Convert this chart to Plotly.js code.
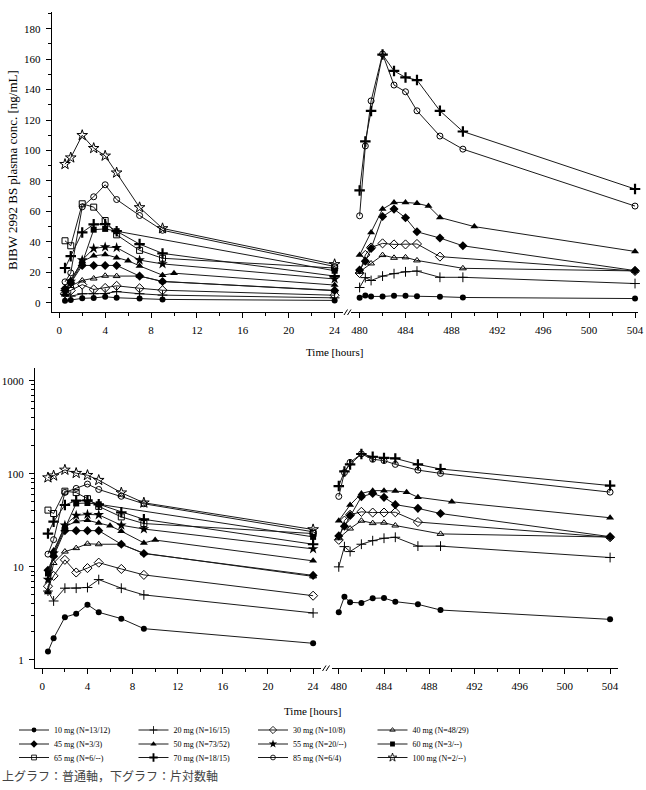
<!DOCTYPE html>
<html><head><meta charset="utf-8">
<script src="https://cdn.plot.ly/plotly-3.0.1.min.js"></script>
<style>html,body{margin:0;padding:0;background:#fff}#chart{width:646px;height:790px}</style>
</head><body><div id="chart"></div>
<script>
const W = 646, H = 790;

// ---- time points (hours) ----
const tDay1      = [0.5, 1, 2, 3, 4, 5, 7, 9, 24];
const tDay1_50mg = [0.5, 1, 2, 3, 4, 5, 6, 7, 9, 10, 24];
const tDay1_60mg = [0.5, 1, 2, 3, 4, 5, 24];
const tDay21      = [480, 480.5, 481, 482, 483, 484, 485, 487, 489, 504];
const tDay21_30mg = [480, 480.5, 481, 482, 483, 484, 485, 487, 504];
const tDay21_40mg = [480, 481, 482, 483, 484, 485, 489, 504];
const tDay21_50mg = [480, 481, 482, 483, 484, 485, 486, 487, 490, 504];

// ---- legend labels ----
const doseLabels = [
  "10 mg (N=13/12)", "20 mg (N=16/15)", "30 mg (N=10/8)", "40 mg (N=48/29)",
  "45 mg (N=3/3)", "50 mg (N=73/52)", "55 mg (N=20/--)", "60 mg (N=3/--)",
  "65 mg (N=6/--)", "70 mg (N=18/15)", "85 mg (N=6/4)", "100 mg (N=2/--)"
];

// ---- concentrations, day 1 (ng/mL) ----
const c10_d1  = [1.23, 1.71, 2.88, 3.14, 3.93, 3.25, 2.78, 2.17, 1.51];
const c20_d1  = [5.5, 4.3, 5.9, 5.9, 6.0, 7.3, 5.9, 5.0, 3.2];
const c30_d1  = [6.2, 8.0, 11.9, 8.7, 9.7, 11.1, 9.5, 8.2, 4.9];
const c40_d1  = [5.5, 11.0, 14.6, 15.9, 17.7, 17.5, 17.5, 14.0, 7.9];
const c45_d1  = [9.2, 13.0, 24.5, 24.5, 24.5, 24.5, 17.5, 13.9, 8.1];
const c50_d1  = [5.3, 15.0, 27.0, 30.8, 31.7, 29.6, 27.6, 24.2, 18.1, 19.4, 11.6];
const c55_d1  = [7.3, 14.0, 28.0, 35.7, 36.6, 36.2, 28.0, 25.5, 15.6];
const c60_d1  = [8.5, 13.5, 26.0, 48.0, 48.5, 47.0, 21.0];
const c65_d1  = [40.7, 37.4, 65.0, 62.8, 54.0, 44.6, 34.4, 29.2, 22.8];
const c70_d1  = [22.8, 30.6, 46.2, 51.5, 51.7, 47.0, 38.5, 32.4, 17.5];
const c85_d1  = [13.7, 19.6, 63.0, 69.6, 77.5, 67.8, 57.3, 47.6, 23.8];
const c100_d1 = [91.0, 95.3, 110.0, 101.5, 96.5, 85.4, 62.6, 48.8, 25.2];

// ---- concentrations, day 21 (ng/mL) ----
const c10_d21 = [3.25, 4.78, 4.16, 4.10, 4.60, 4.63, 4.23, 3.96, 3.44, 2.73];
const c20_d21 = [10.0, 16.5, 14.6, 17.5, 19.1, 20.3, 20.8, 16.7, 16.7, 12.6];
const c30_d21 = [19.5, 31.4, 36.3, 39.0, 38.3, 38.3, 38.6, 30.3, 20.8];
const c40_d21 = [20.3, 25.8, 31.3, 29.5, 29.8, 27.8, 22.6, 20.9];
const c45_d21 = [21.5, 27.3, 35.6, 56.6, 61.5, 55.8, 46.6, 42.5, 37.4, 21.1];
const c50_d21 = [31.3, 46.2, 61.5, 65.9, 65.9, 65.3, 63.5, 56.0, 50.0, 33.7];
const c70_d21 = [73.8, 106.0, 126.0, 163.0, 152.3, 148.0, 146.3, 126.1, 112.5, 74.7];
const c85_d21 = [57.1, 103.0, 132.6, 163.4, 143.0, 138.6, 126.1, 109.5, 100.9, 63.5];

// ---- axis tick labels ----
const logTickVals = [1, 10, 100, 1000];
const logTickText = ["1", "10", "100", "1000"];

const series = [
  {i:0,  t1:tDay1,      v1:c10_d1,  t21:tDay21,      v21:c10_d21, sym:'circle',          size:6, lg:'legend'},
  {i:1,  t1:tDay1,      v1:c20_d1,  t21:tDay21,      v21:c20_d21, sym:'cross-thin-open', size:7, lw:1, lg:'legend'},
  {i:2,  t1:tDay1,      v1:c30_d1,  t21:tDay21_30mg, v21:c30_d21, sym:'diamond-open',    size:7, lw:1, lg:'legend'},
  {i:3,  t1:tDay1,      v1:c40_d1,  t21:tDay21_40mg, v21:c40_d21, sym:'triangle-up-open',size:6, lw:1, lg:'legend'},
  {i:4,  t1:tDay1,      v1:c45_d1,  t21:tDay21,      v21:c45_d21, sym:'diamond',         size:7, lg:'legend2'},
  {i:5,  t1:tDay1_50mg, v1:c50_d1,  t21:tDay21_50mg, v21:c50_d21, sym:'triangle-up',     size:7, lg:'legend2'},
  {i:6,  t1:tDay1,      v1:c55_d1,  t21:null,        v21:null,    sym:'star',            size:8, lg:'legend2'},
  {i:7,  t1:tDay1_60mg, v1:c60_d1,  t21:null,        v21:null,    sym:'square',          size:6, lg:'legend2'},
  {i:8,  t1:tDay1,      v1:c65_d1,  t21:null,        v21:null,    sym:'square-open',     size:6, lw:1, lg:'legend3'},
  {i:9,  t1:tDay1,      v1:c70_d1,  t21:tDay21,      v21:c70_d21, sym:'cross-thin-open', size:7.5, lw:2.2, lg:'legend3'},
  {i:10, t1:tDay1,      v1:c85_d1,  t21:tDay21,      v21:c85_d21, sym:'circle-open',     size:6, lw:1, lg:'legend3'},
  {i:11, t1:tDay1,      v1:c100_d1, t21:null,        v21:null,    sym:'star-open',       size:8, lw:1, lg:'legend3'}
];

const traces = [];
function mk(s, x, y, xa, ya, show, scale) {
  return {
    type: 'scatter', mode: 'lines+markers', x: x, y: y, xaxis: xa, yaxis: ya,
    name: doseLabels[s.i], legendgroup: 'g' + s.i, showlegend: show, legend: s.lg,
    line: {color: '#1a1a1a', width: 1},
    marker: {symbol: s.sym, size: s.size * scale, color: '#000',
             line: {color: '#000', width: (s.lw || 0) * (scale < 1 ? 0.85 : 1)}},
    cliponaxis: false, hoverinfo: 'skip'
  };
}
series.forEach(s => {
  traces.push(mk(s, s.t1, s.v1, 'x', 'y', false, 1));
  if (s.t21) traces.push(mk(s, s.t21, s.v21, 'x2', 'y', false, 1));
  traces.push(mk(s, s.t1, s.v1, 'x3', 'y2', false, 1));
  if (s.t21) traces.push(mk(s, s.t21, s.v21, 'x4', 'y2', false, 1));
});
// legend-only entries (no points), with slightly smaller symbols as in the key
series.forEach(s => traces.push(mk(s, [null], [null], 'x', 'y', true, 0.8)));

const px = v => v / W, py = v => 1 - v / H;
const serif = 'Liberation Serif, Times New Roman, serif';
const tf = {family: serif, size: 11, color: '#000'};
const xbase = {
  showline: true, linecolor: '#000', linewidth: 1, ticks: 'outside', ticklen: 5,
  tickwidth: 1, tickcolor: '#000', showgrid: false, zeroline: false, tickfont: tf,
  dtick: 4, ticklabelstandoff: 3,
  minor: {ticks: 'outside', ticklen: 3, tickwidth: 1, tickcolor: '#000', dtick: 2, showgrid: false}
};

const minorLog = [];
[1, 10, 100].forEach(d => { for (let k = 2; k <= 9; k++) minorLog.push(k * d); });

const legendBase = {
  orientation: 'h', xanchor: 'left', yanchor: 'middle', x: px(14),
  entrywidth: 74.5, entrywidthmode: 'pixels', itemwidth: 30,
  font: {family: serif, size: 8, color: '#000'},
  bgcolor: 'rgba(0,0,0,0)', borderwidth: 0, traceorder: 'normal'
};

function slash(x1, y1, x2, y2) {
  return {type: 'line', xref: 'paper', yref: 'paper', x0: px(x1), y0: py(y1), x1: px(x2), y1: py(y2),
          line: {color: '#000', width: 1}};
}

const layout = {
  width: W, height: H, margin: {l: 0, r: 0, t: 0, b: 0},
  paper_bgcolor: '#fff', plot_bgcolor: 'rgba(0,0,0,0)',
  showlegend: true,
  xaxis:  Object.assign({}, xbase, {domain: [px(51.7), px(343)], range: [-0.66, 24.73], tick0: 0, anchor: 'y'}),
  xaxis2: Object.assign({}, xbase, {domain: [px(351), px(638)], range: [479.25, 504.26], tick0: 480, anchor: 'y'}),
  xaxis3: Object.assign({}, xbase, {domain: [px(35), px(321)], range: [-0.65, 24.7], tick0: 0, anchor: 'y2'}),
  xaxis4: Object.assign({}, xbase, {domain: [px(332), px(618)], range: [479.4, 504.7], tick0: 480, anchor: 'y2'}),
  yaxis: {
    domain: [py(311.7), py(11.7)], range: [-5.9, 191.2], anchor: 'x',
    showline: true, linecolor: '#000', linewidth: 1, ticks: 'outside', ticklen: 5, tickwidth: 1,
    tickcolor: '#000', showgrid: false, zeroline: false, tickfont: tf, dtick: 20, tick0: 0,
    ticklabelstandoff: 3,
    minor: {ticks: 'outside', ticklen: 3, tickwidth: 1, tickcolor: '#000', dtick: 10, showgrid: false}
  },
  yaxis2: {
    type: 'log', domain: [py(667.7), py(368)], range: [-0.083, 3.136], anchor: 'x3',
    showline: true, linecolor: '#000', linewidth: 1, ticks: 'outside', ticklen: 5, tickwidth: 1,
    tickcolor: '#000', showgrid: false, zeroline: false, tickfont: tf,
    tickmode: 'array', tickvals: logTickVals, ticktext: logTickText, ticklabelstandoff: 3,
    minor: {ticks: 'outside', ticklen: 3, tickwidth: 1, tickcolor: '#000', tickmode: 'array', tickvals: minorLog, showgrid: false}
  },
  legend:  Object.assign({}, legendBase, {y: py(730)}),
  legend2: Object.assign({}, legendBase, {y: py(744)}),
  legend3: Object.assign({}, legendBase, {y: py(757.5)}),
  annotations: [
    {text: 'BIBW 2992 BS plasma conc. [ng/mL]', xref: 'paper', yref: 'paper', x: px(12), y: py(170),
     textangle: -90, showarrow: false, xanchor: 'center', yanchor: 'middle',
     font: {family: serif, size: 13, color: '#000'}},
    {text: 'Time [hours]', xref: 'paper', yref: 'paper', x: px(334), y: py(352), showarrow: false,
     xanchor: 'center', yanchor: 'middle', font: {family: serif, size: 11, color: '#000'}},
    {text: 'Time [hours]', xref: 'paper', yref: 'paper', x: px(312), y: py(711), showarrow: false,
     xanchor: 'center', yanchor: 'middle', font: {family: serif, size: 11, color: '#000'}},
    {text: '上グラフ：普通軸，下グラフ：片対数軸', xref: 'paper', yref: 'paper', x: 0, y: py(775), showarrow: false,
     xanchor: 'left', yanchor: 'middle', font: {family: 'Noto Sans CJK JP, sans-serif', size: 12, color: '#444'}}
  ],
  shapes: [
    slash(344, 315, 347.5, 309.5), slash(347.5, 315, 351, 309.5),
    slash(322.5, 671, 326, 665.5), slash(326, 671, 329.5, 665.5)
  ]
};

Plotly.newPlot('chart', traces, layout, {displayModeBar: false, staticPlot: true});
</script></body></html>
